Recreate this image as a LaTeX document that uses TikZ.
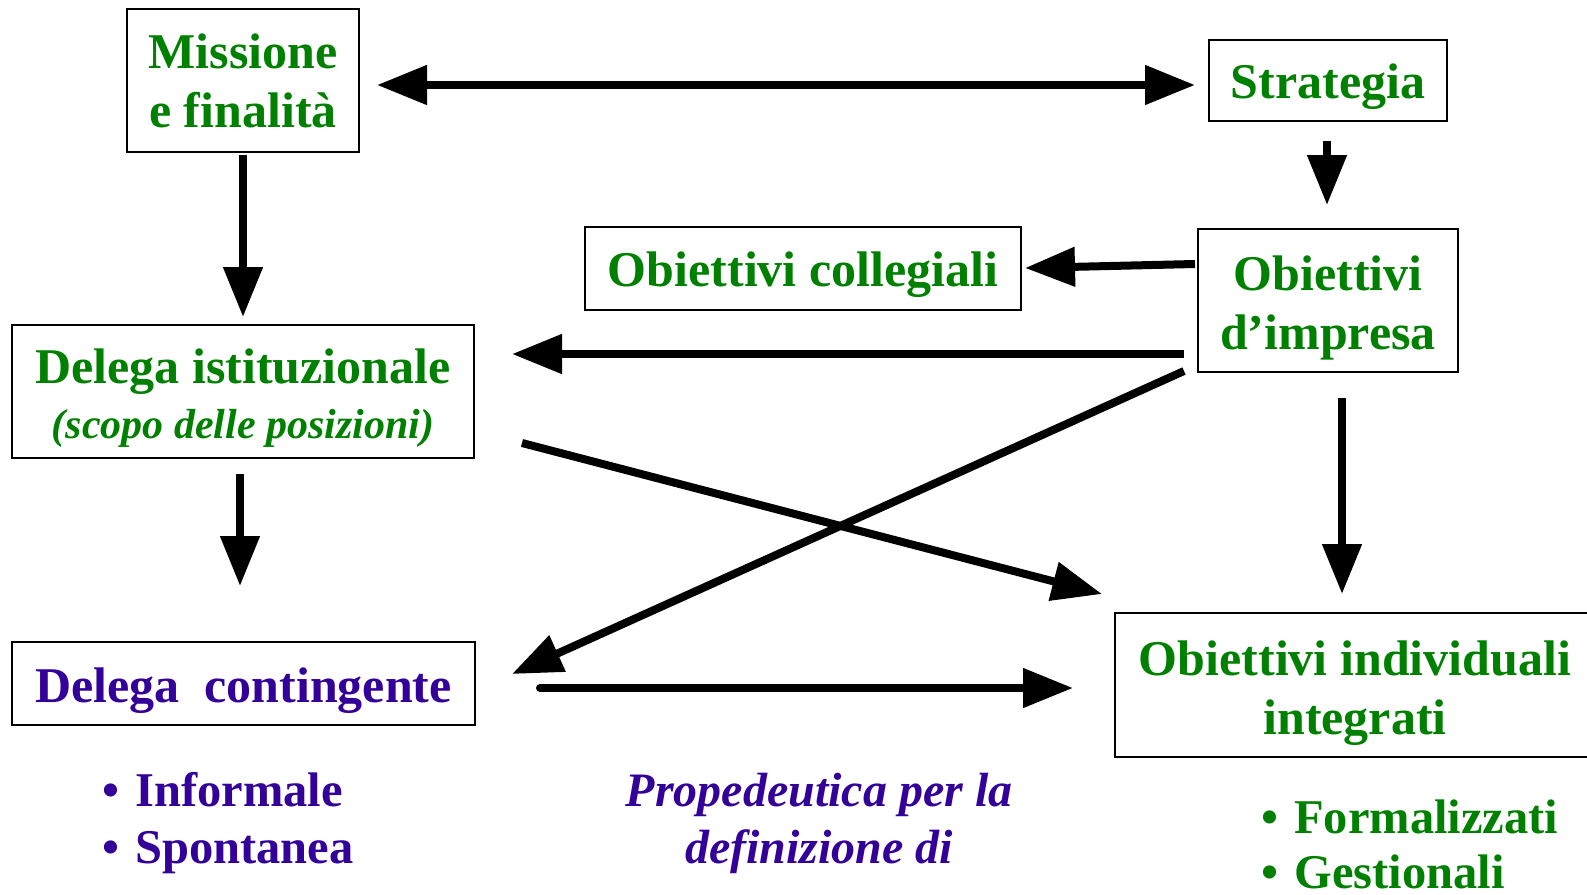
\documentclass[tikz,border=0pt]{standalone}
\usepackage{fontspec}
\setmainfont{Liberation Serif}
\usetikzlibrary{arrows.meta,calc}
\definecolor{dgreen}{RGB}{0,128,0}
\definecolor{dpurple}{RGB}{51,0,153}
\begin{document}
\begin{tikzpicture}[x=1pt,y=-1pt,
  box/.style={draw=black,line width=2pt,rectangle,inner sep=0pt},
  boxtext/.style={inner sep=0pt,align=center,
    font=\fontsize{50}{59}\selectfont\bfseries,text=dgreen},
  arr/.style={line width=8pt,-{Triangle[length=50pt,width=38pt]}},
  txt/.style={inner sep=0pt,font=\fontsize{48.5}{58}\selectfont\bfseries}]
\useasboundingbox (0,0) rectangle (1587,894);
\node[box,minimum width=232pt,minimum height=143pt] (mis) at (243,80.5) {};
\node[boxtext] (misT) at ($(mis)+(0,0)$) {Missione\\e finalità};
\node[box,minimum width=238pt,minimum height=81pt] (str) at (1328,80) {};
\node[boxtext] (strT) at ($(str)+(0,7)$) {Strategia};
\node[box,minimum width=436pt,minimum height=83pt] (col) at (803,268.5) {};
\node[boxtext] (colT) at ($(col)+(0,6)$) {Obiettivi collegiali};
\node[box,minimum width=260pt,minimum height=143pt] (imp) at (1328,300.5) {};
\node[boxtext] (impT) at ($(imp)+(0,7)$) {Obiettivi\\d’impresa};
\node[box,minimum width=462pt,minimum height=133pt] (ist) at (243,391.5) {};
\node[boxtext] (istT) at ($(ist)+(0,7)$) {Delega istituzionale\\[-4pt]{\fontsize{42}{50}\selectfont\itshape (scopo delle posizioni)}};
\node[box,minimum width=463pt,minimum height=83pt] (con) at (243.5,683.5) {};
\node[boxtext,text=dpurple] (conT) at ($(con)+(0,7)$) {Delega\ \ contingente};
\node[box,minimum width=480pt,minimum height=144pt] (ind) at (1355,685) {};
\node[boxtext] (indT) at ($(ind)+(0,8)$) {Obiettivi individuali\\integrati};
% bullet lists and notes
\node[txt,anchor=base west,text=dpurple] (inf) at (102,806) {•\hspace{4pt} Informale};
\node[txt,anchor=base west,text=dpurple] (spo) at (102,863) {•\hspace{4pt} Spontanea};
\node[txt,anchor=base,text=dpurple,font=\fontsize{48}{57}\selectfont\bfseries\itshape] (pro) at (819,806) {Propedeutica per la};
\node[txt,anchor=base,text=dpurple,font=\fontsize{48}{57}\selectfont\bfseries\itshape] (def) at (819,863) {definizione di};
\node[txt,anchor=base west,text=dgreen] (frm) at (1261,833) {•\hspace{4pt} Formalizzati};
\node[txt,anchor=base west,text=dgreen,text depth=0pt] (ges) at (1261,888) {•\hspace{4pt} Gestionali};
% connector end points
\coordinate (a1) at ($(mis.east)+(17,4.5)$);
\coordinate (a2) at ($(str.west)+(-13,5)$);
\coordinate (b1) at ($(mis.south)+(0,2)$);
\coordinate (b2) at ($(ist.north)+(0,-7)$);
\coordinate (c1) at ($(str.south)+(-1,19)$);
\coordinate (c2) at ($(imp.north)+(-1,-23)$);
\coordinate (d1) at ($(imp.west)+(-2,-36.5)$);
\coordinate (d2) at ($(col.east)+(3,-0.5)$);
\coordinate (e1) at ($(imp.west)+(-13,53.5)$);
\coordinate (e2) at ($(ist.east)+(37,-37.5)$);
\coordinate (f1) at ($(imp.west)+(-13,70.5)$);
\coordinate (f2) at ($(con.east)+(36,-9.5)$);
\coordinate (g1) at ($(ist.east)+(47,51.5)$);
\coordinate (g2) at ($(ind.west)+(-12,-91)$);
\coordinate (h1) at ($(imp.south)+(14,25)$);
\coordinate (h2) at ($(ind.north)+(-13,-18)$);
\coordinate (i1) at ($(ist.south)+(-3,15)$);
\coordinate (i2) at ($(con.north)+(-3.5,-55)$);
\coordinate (j1) at ($(con.east)+(64,4.5)$);
\coordinate (j2) at ($(ind.west)+(-41,3)$);
\draw[line width=8pt,{Triangle[length=50pt,width=38pt]}-{Triangle[length=50pt,width=38pt]}] (a1) -- (a2);
\draw[arr] (b1) -- (b2);
\draw[arr] (c1) -- (c2);
\draw[arr] (d1) -- (d2);
\draw[arr] (e1) -- (e2);
\draw[arr] (f1) -- (f2);
\draw[arr] (g1) -- (g2);
\draw[arr] (h1) -- (h2);
\draw[arr] (i1) -- (i2);
\draw[arr,line cap=round] (j1) -- (j2);
\end{tikzpicture}
\end{document}
